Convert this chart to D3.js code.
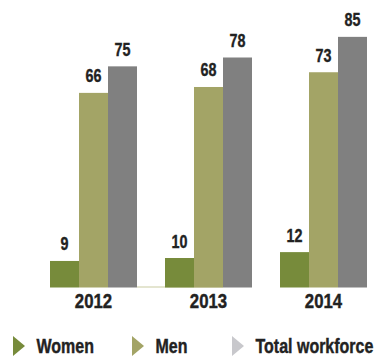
<!DOCTYPE html>
<html><head><meta charset="utf-8">
<script src="https://cdn.jsdelivr.net/npm/d3@7"></script>
<style>body{margin:0;background:#fff}svg{display:block}</style>
</head><body><div id="c"></div>
<script>
const years = ["2012", "2013", "2014"];
const seriesNames = ["Women", "Men", "Total workforce"];
const women = [9, 10, 12];
const men = [66, 68, 73];
const total = [75, 78, 85];
const colors = ["#778b3b", "#a3a466", "#808080"];
const legendColors = ["#778b3b", "#a3a466", "#c8c8cc"];

const W = 378, H = 356;
const svg = d3.select("#c").append("svg").attr("width", W).attr("height", H);
const font = "'Liberation Sans', Arial, sans-serif";
const SX = 0.82;

const x0 = d3.scaleBand().domain(years).range([50, 367]).paddingInner(28 / 115).paddingOuter(0);
const x1 = d3.scaleBand().domain(seriesNames).range([0, x0.bandwidth()]);
const y = d3.scaleLinear().domain([0, 97.5]).range([287.5, 0]);

const data = years.map((yr, i) => ({ year: yr, vals: [women[i], men[i], total[i]] }));

// faint baseline fragment
svg.append("line")
  .attr("x1", x0("2012") + x1("Total workforce") + x1.bandwidth())
  .attr("x2", x0("2013") + x1("Men") + x1.bandwidth())
  .attr("y1", y(0) - 0.5).attr("y2", y(0) - 0.5)
  .attr("stroke", "#c9cba2").attr("stroke-width", 1.2);

const g = svg.selectAll("g.grp").data(data).join("g")
  .attr("transform", d => `translate(${x0(d.year)},0)`);

g.selectAll("rect").data(d => d.vals.map((v, j) => ({ v, s: seriesNames[j], j })))
  .join("rect")
  .attr("x", d => x1(d.s))
  .attr("width", x1.bandwidth())
  .attr("y", d => y(d.v))
  .attr("height", d => y(0) - y(d.v))
  .attr("fill", d => colors[d.j]);

g.selectAll("text.val").data(d => d.vals.map((v, j) => ({ v, s: seriesNames[j], j })))
  .join("text").attr("class", "val")
  .attr("transform", d => `translate(${x1(d.s) + x1.bandwidth() / 2},${y(d.v) - 10.5}) scale(${SX},1)`)
  .attr("text-anchor", "middle")
  .attr("font-family", font).attr("font-weight", "bold").attr("font-size", 17.5)
  .attr("fill", "#222").attr("stroke", "#222").attr("stroke-width", 0.35)
  .text(d => d.v);

const axg = svg.append("g").attr("transform", `translate(0,${y(0)})`);
axg.call(d3.axisBottom(x0).tickSize(0).tickPadding(0));
axg.select(".domain").remove();
axg.selectAll(".tick text")
  .attr("dy", 0).attr("y", 20.5)
  .attr("transform", `scale(${SX + 0.02},1)`)
  .attr("font-family", font).attr("font-weight", "bold").attr("font-size", 20)
  .attr("fill", "#222").attr("stroke", "#222").attr("stroke-width", 0.4);

// legend
const legX = [13, 132, 232];
const lg = svg.selectAll("g.leg").data(seriesNames).join("g")
  .attr("transform", (d, i) => `translate(${legX[i]},346)`);
lg.append("path").attr("d", "M0,-10 L12,0 L0,10 Z").attr("fill", (d, i) => legendColors[i]);
lg.append("text").attr("transform", `translate(23.5,6.5) scale(${SX},1)`)
  .attr("font-family", font).attr("font-weight", "bold").attr("font-size", 19.5)
  .attr("fill", "#222").attr("stroke", "#222").attr("stroke-width", 0.4).text(d => d);
</script></body></html>
